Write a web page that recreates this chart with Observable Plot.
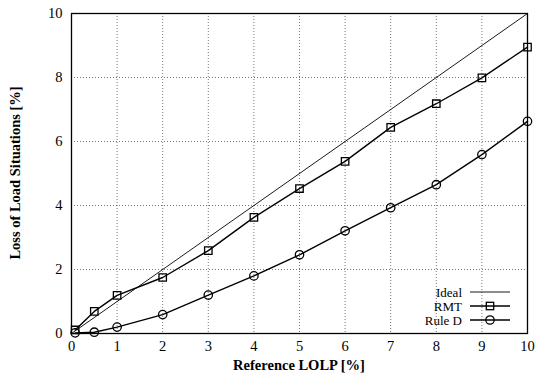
<!DOCTYPE html>
<html>
<head>
<meta charset="utf-8">
<script src="https://cdn.jsdelivr.net/npm/d3@7"></script>
<script src="https://cdn.jsdelivr.net/npm/@observablehq/plot@0.6"></script>
<style>
  html, body { margin: 0; padding: 0; background: #fff; }
  #wrap { position: relative; width: 539px; height: 376px; }
  #wrap svg, #wrap svg text { font-family: "Liberation Serif", "Times New Roman", serif !important; }
</style>
</head>
<body>
<div id="wrap"></div>
<script>
const refLOLP = [0.08, 0.5, 1, 2, 3, 4, 5, 6, 7, 8, 9, 10];
const rmt =     [0.11, 0.69, 1.19, 1.75, 2.59, 3.63, 4.53, 5.38, 6.44, 7.18, 7.99, 8.95];
const ruleD =   [0.02, 0.04, 0.2, 0.59, 1.2, 1.8, 2.46, 3.21, 3.93, 4.65, 5.59, 6.63];
const ideal = [0, 10];
const ticks = [0, 1, 2, 3, 4, 5, 6, 7, 8, 9, 10];
const yTicks = [0, 2, 4, 6, 8, 10];
const seriesNames = ["Ideal", "RMT", "Rule D"];

const rmtData = refLOLP.map((x, i) => ({x, y: rmt[i]}));
const ruleData = refLOLP.map((x, i) => ({x, y: ruleD[i]}));
const idealData = ideal.map(v => ({x: v, y: v}));

const W = 539, H = 376;
const ml = 71, mr = 12, mt = 13, mb = 43;
const FS = 14.5;
const LFS = 13;
const FF = '"Liberation Serif", serif';

const chart = Plot.plot({
  width: W,
  height: H,
  marginLeft: ml,
  marginRight: mr,
  marginTop: mt,
  marginBottom: mb,
  style: {fontFamily: FF, fontSize: FS + "px", background: "#fff", color: "#000"},
  x: {domain: [0, 10]},
  y: {domain: [0, 10]},
  marks: [
    Plot.gridX(ticks, {stroke: "#555", strokeOpacity: 1, strokeWidth: 0.8, strokeDasharray: "1,2"}),
    Plot.gridY(yTicks, {stroke: "#555", strokeOpacity: 1, strokeWidth: 0.8, strokeDasharray: "1,2"}),
    Plot.axisX(ticks, {tickSize: 0, tickPadding: 7, fontSize: FS, label: null}),
    Plot.axisY(yTicks, {tickSize: 0, tickPadding: 9, fontSize: FS, label: null}),
    Plot.line(idealData, {x: "x", y: "y", stroke: "#000", strokeWidth: 0.9}),
    Plot.line(rmtData, {x: "x", y: "y", stroke: "#000", strokeWidth: 1.4}),
    Plot.dot(rmtData, {x: "x", y: "y", symbol: "square", r: 4.2, stroke: "#000", strokeWidth: 1.3, fill: "none"}),
    Plot.line(ruleData, {x: "x", y: "y", stroke: "#000", strokeWidth: 1.4}),
    Plot.dot(ruleData, {x: "x", y: "y", symbol: "circle", r: 4.2, stroke: "#000", strokeWidth: 1.3, fill: "none"}),
    Plot.frame({stroke: "#000", strokeWidth: 1.3})
  ]
});
document.getElementById("wrap").appendChild(chart);

const svg = d3.select(chart);
// Axis titles
svg.append("text")
  .attr("x", ml + (W - ml - mr) / 2).attr("y", 370)
  .attr("text-anchor", "middle")
  .style("font-family", FF)
  .attr("font-weight", "bold").attr("font-size", FS)
  .text("Reference LOLP [%]");
svg.append("text")
  .attr("transform", `translate(20,${mt + (H - mt - mb) / 2}) rotate(-90)`)
  .attr("text-anchor", "middle")
  .style("font-family", FF)
  .attr("font-weight", "bold").attr("font-size", FS)
  .text("Loss of Load Situations [%]");

// Legend (inside bottom right)
const lg = svg.append("g").style("font-family", FF).attr("font-size", LFS);
const rowsY = [292, 306, 320];
seriesNames.forEach((name, i) => {
  const y = rowsY[i];
  lg.append("text").attr("x", 462).attr("y", y + 4.5)
    .attr("text-anchor", "end").text(name);
  lg.append("line").attr("x1", 470).attr("x2", 510).attr("y1", y).attr("y2", y)
    .attr("stroke", "#000").attr("stroke-width", i === 0 ? 0.9 : 1.4);
  if (i === 1) {
    lg.append("rect").attr("x", 490 - 3.7).attr("y", y - 3.7).attr("width", 7.4).attr("height", 7.4)
      .attr("fill", "none").attr("stroke", "#000").attr("stroke-width", 1.3);
  } else if (i === 2) {
    lg.append("circle").attr("cx", 490).attr("cy", y).attr("r", 4.2)
      .attr("fill", "none").attr("stroke", "#000").attr("stroke-width", 1.3);
  }
});
</script>
</body>
</html>
